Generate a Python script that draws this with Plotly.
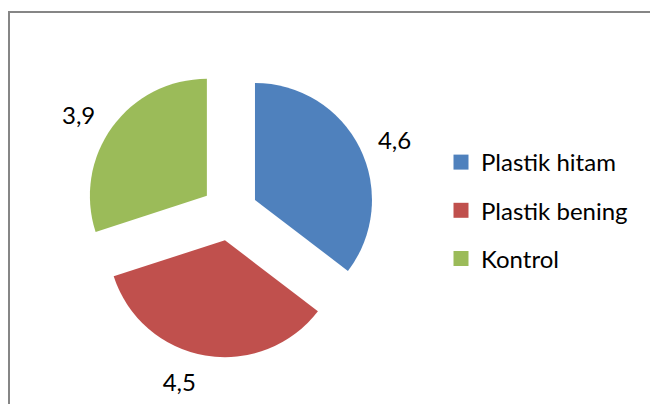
import plotly.graph_objects as go

categories = ["Plastik hitam", "Plastik bening", "Kontrol"]
values = [4.6, 4.5, 3.9]
colors = ["#4F81BD", "#C0504D", "#9BBB59"]

W, H = 650, 404
FONT = "Lato"
FS = 24

# pie geometry (pixels): centre, radius, explode offset
CX, CY, R, OFF = 229.7, 212.4, 117.0, 28.2
R_LBL = 129.0  # radius of the ring used to place the value labels


def domain_for(radius):
    half = radius + OFF
    return dict(
        x=[(CX - half) / W, (CX + half) / W],
        y=[1 - (CY + half) / H, 1 - (CY - half) / H],
    )


fig = go.Figure()
fig.add_trace(go.Pie(
    labels=categories,
    values=values,
    marker=dict(colors=colors, line=dict(width=0)),
    sort=False,
    direction="clockwise",
    rotation=0,
    pull=[OFF / R] * len(values),
    textinfo="none",
    showlegend=False,
    hoverinfo="label+value",
    domain=domain_for(R),
))
# transparent ring carrying the outside value labels (slightly further out, as in the original)
fig.add_trace(go.Pie(
    labels=categories,
    values=values,
    marker=dict(colors=["rgba(0,0,0,0)"] * len(values), line=dict(width=0)),
    sort=False,
    direction="clockwise",
    rotation=0,
    pull=[OFF / R_LBL] * len(values),
    textinfo="value",
    textposition="outside",
    textfont=dict(family=FONT, size=FS, color="#000000"),
    showlegend=False,
    hoverinfo="skip",
    domain=domain_for(R_LBL),
))

for name, col in zip(categories, colors):
    fig.add_trace(go.Scatter(
        x=[None], y=[None], mode="markers", name=name,
        legendgroup=name,
        marker=dict(symbol="square", size=15, color=col),
    ))

border = dict(color="#868686", width=2)
fig.update_layout(
    width=W, height=H,
    margin=dict(l=0, r=0, t=0, b=0, autoexpand=False),
    paper_bgcolor="white", plot_bgcolor="white",
    separators=",.",
    xaxis=dict(visible=False), yaxis=dict(visible=False),
    font=dict(family=FONT, size=FS, color="#000000"),
    legend=dict(
        x=441 / W, y=1 - 140 / H, xanchor="left", yanchor="top",
        font=dict(family=FONT, size=FS, color="#000000"),
        tracegroupgap=14, itemwidth=30, bgcolor="rgba(0,0,0,0)",
    ),
    shapes=[
        dict(type="line", xref="paper", yref="paper",
             x0=8 / W, x1=1, y0=1 - 12 / H, y1=1 - 12 / H, line=border, layer="below"),
        dict(type="line", xref="paper", yref="paper",
             x0=9 / W, x1=9 / W, y0=0, y1=1 - 11 / H, line=border, layer="below"),
    ],
)

fig.write_html(
    "out.html",
    config={"displayModeBar": False},
    post_script=(
        "var s=document.createElement('style');"
        "s.textContent='html,body{margin:0;padding:0;overflow:hidden;}"
        "::-webkit-scrollbar{display:none;width:0;height:0;}';"
        "document.head.appendChild(s);"
    ),
)
